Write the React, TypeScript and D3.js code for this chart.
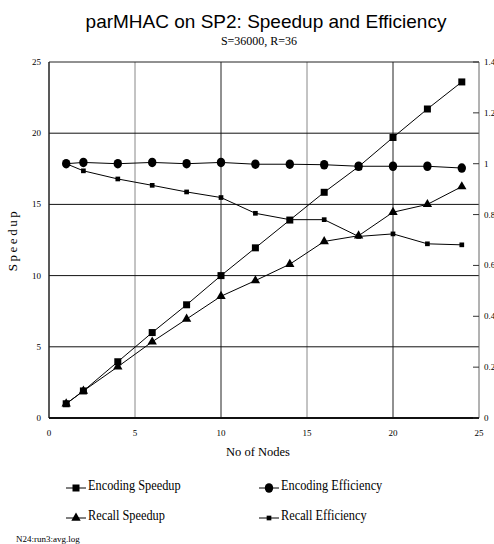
import React, { useEffect, useRef } from "react";
import * as d3 from "d3";

const nodes = [1, 2, 4, 6, 8, 10, 12, 14, 16, 18, 20, 22, 24];
const encodingSpeedup = [1.0, 1.9, 3.95, 6.0, 7.95, 10.0, 11.95, 13.9, 15.85, 17.65, 19.7, 21.7, 23.6];
const recallSpeedup = [1.0, 1.9, 3.6, 5.35, 6.95, 8.55, 9.65, 10.8, 12.4, 12.8, 14.45, 15.0, 16.25];
const encodingEfficiency = [1.0, 1.005, 1.0, 1.005, 1.0, 1.005, 0.998, 0.998, 0.996, 0.99, 0.99, 0.99, 0.983];
const recallEfficiency = [1.0, 0.972, 0.94, 0.915, 0.889, 0.867, 0.805, 0.78, 0.78, 0.714, 0.724, 0.685, 0.681];

const xTicks = [0, 5, 10, 15, 20, 25];
const speedupTicks = [0, 5, 10, 15, 20, 25];
const efficiencyTicks = [0, 0.2, 0.4, 0.6, 0.8, 1, 1.2, 1.4];

const serif = "'Liberation Serif', 'Times New Roman', serif";
const sans = "'Liberation Sans', Arial, sans-serif";

const W = 494;
const H = 544;
const margin = { left: 49, right: 15, top: 62, bottom: 126 };

export default function App() {
  const ref = useRef<SVGSVGElement>(null);

  useEffect(() => {
    const svg = d3.select(ref.current);
    svg.selectAll("*").remove();

    const x = d3.scaleLinear().domain([0, 25]).range([margin.left, W - margin.right]);
    const yL = d3.scaleLinear().domain([0, 25]).range([H - margin.bottom, margin.top]);
    const yR = d3.scaleLinear().domain([0, 1.4]).range([H - margin.bottom, margin.top]);
    const x0 = margin.left, x1 = W - margin.right, y0 = H - margin.bottom, y1 = margin.top;

    // title
    svg.append("text").attr("x", 266).attr("y", 28).attr("text-anchor", "middle")
      .attr("font-family", sans).attr("font-size", 19).text("parMHAC on SP2: Speedup and Efficiency");
    svg.append("text").attr("x", 259).attr("y", 45).attr("text-anchor", "middle")
      .attr("font-family", serif).attr("font-size", 12).text("S=36000, R=36");

    // grid
    const g = svg.append("g");
    g.selectAll(".vg").data(xTicks.slice(1, -1)).join("line")
      .attr("x1", (d) => x(d)).attr("x2", (d) => x(d)).attr("y1", y1).attr("y2", y0)
      .attr("stroke", (d) => (d % 10 === 0 ? "#222" : "#888")).attr("stroke-width", 1);
    g.selectAll(".hg").data(speedupTicks.slice(1, -1)).join("line")
      .attr("x1", x0).attr("x2", x1).attr("y1", (d) => yL(d)).attr("y2", (d) => yL(d))
      .attr("stroke", "#111").attr("stroke-width", 1);

    // frame
    g.append("line").attr("x1", x0).attr("x2", x1).attr("y1", y1).attr("y2", y1).attr("stroke", "#222");
    g.append("line").attr("x1", x0).attr("x2", x0).attr("y1", y1).attr("y2", y0).attr("stroke", "#222").attr("stroke-width", 1.5);
    g.append("line").attr("x1", x1).attr("x2", x1).attr("y1", y1).attr("y2", y0).attr("stroke", "#666");
    g.append("line").attr("x1", x0).attr("x2", x1).attr("y1", y0).attr("y2", y0).attr("stroke", "#111").attr("stroke-width", 2);

    // tick labels
    svg.selectAll(".xt").data(xTicks).join("text")
      .attr("x", (d) => x(d)).attr("y", y0 + 18).attr("text-anchor", "middle")
      .attr("font-family", serif).attr("font-size", 9).text((d) => d);
    svg.selectAll(".yl").data(speedupTicks).join("text")
      .attr("x", x0 - 8).attr("y", (d) => yL(d) + 3).attr("text-anchor", "end")
      .attr("font-family", serif).attr("font-size", 9).text((d) => d);
    svg.selectAll(".rtk").data(efficiencyTicks).join("line")
      .attr("x1", x1 - 6).attr("x2", x1).attr("y1", (d) => yR(d)).attr("y2", (d) => yR(d))
      .attr("stroke", "#333");
    // right labels run off the edge, as in the original
    svg.selectAll(".yr").data(efficiencyTicks).join("text")
      .attr("x", x1 + 5).attr("y", (d) => yR(d) + 3)
      .attr("font-family", serif).attr("font-size", 9).text((d) => d);

    // axis titles
    svg.append("text").attr("x", 258).attr("y", 456).attr("text-anchor", "middle")
      .attr("font-family", serif).attr("font-size", 12.5).text("No of Nodes");
    svg.append("text").attr("transform", `translate(17,${(y0 + y1) / 2}) rotate(-90)`)
      .attr("text-anchor", "middle").attr("font-family", serif).attr("font-size", 13)
      .attr("letter-spacing", 2.5).text("Speedup");

    const series = [
      { name: "Encoding Speedup", values: encodingSpeedup, y: yL, marker: "bigSquare" },
      { name: "Encoding Efficiency", values: encodingEfficiency, y: yR, marker: "circle" },
      { name: "Recall Speedup", values: recallSpeedup, y: yL, marker: "triangle" },
      { name: "Recall Efficiency", values: recallEfficiency, y: yR, marker: "smallSquare" },
    ];

    const drawMarker = (sel: any, kind: string, cx: number, cy: number) => {
      if (kind === "circle") {
        sel.append("ellipse").attr("cx", cx).attr("cy", cy).attr("rx", 4.2).attr("ry", 4.8).attr("fill", "#000");
      } else {
        const type = kind === "triangle" ? d3.symbolTriangle : d3.symbolSquare;
        const size = kind === "bigSquare" ? 49 : kind === "smallSquare" ? 22 : 38;
        sel.append("path").attr("transform", `translate(${cx},${cy})`)
          .attr("d", d3.symbol().type(type).size(size)()).attr("fill", "#000");
      }
    };

    series.forEach((s) => {
      const pts = nodes.map((n, i) => [n, s.values[i]] as [number, number]);
      const line = d3.line().x((d) => x(d[0])).y((d) => s.y(d[1]));
      svg.append("path").datum(pts).attr("d", line).attr("fill", "none").attr("stroke", "#000").attr("stroke-width", 1);
      const mg = svg.append("g");
      pts.forEach((p) => drawMarker(mg, s.marker, x(p[0]), s.y(p[1])));
    });

    // legend
    const legendPos = [
      { lx: 66, ly: 485 },
      { lx: 259, ly: 485 },
      { lx: 66, ly: 515 },
      { lx: 259, ly: 515 },
    ];
    series.forEach((s, i) => {
      const { lx, ly } = legendPos[i];
      const lg = svg.append("g");
      lg.append("line").attr("x1", lx).attr("x2", lx + 20).attr("y1", ly + 3).attr("y2", ly + 3).attr("stroke", "#000");
      drawMarker(lg, s.marker, lx + 10, ly + 3);
      lg.append("text").attr("transform", `translate(${lx + 22},${ly + 5}) scale(0.88,1)`)
        .attr("font-family", serif).attr("font-size", 14).text(s.name);
    });

    svg.append("text").attr("x", 16).attr("y", 542).attr("font-family", serif).attr("font-size", 9)
      .text("N24:run3:avg.log");
  }, []);

  return (
    <svg ref={ref} width={W} height={H}
      style={{ position: "absolute", left: 0, top: 0, background: "#fff" }} />
  );
}
